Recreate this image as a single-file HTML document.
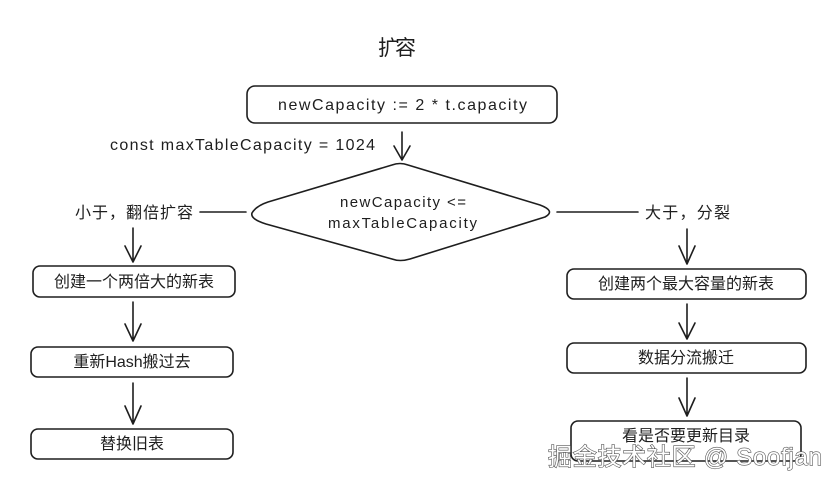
<!DOCTYPE html>
<html><head><meta charset="utf-8"><style>
body{margin:0;background:#fff;width:840px;height:484px;overflow:hidden}
svg{display:block}
text{font-family:"Liberation Sans","Noto Sans CJK SC",sans-serif;fill:#1e1e1e}
</style></head><body>
<svg width="840" height="484" viewBox="0 0 840 484">
<g fill="none" stroke="#1e1e1e" stroke-width="1.6" stroke-linecap="round" stroke-linejoin="round">
<rect x="247" y="86" width="310" height="37" rx="8"/>
<path d="M402 132 L402 160 M394 146 L402 160 L410 146"/>
<path d="M252 213 Q256 206 268 202 L392 165 Q400 162 408 165 L540 205 Q556 211 545 217 L410 259 Q400 262 392 259 L266 224 Q250 219 252 213 Z"/>
<path d="M200 212 L246 212"/>
<path d="M133 228 L133 262 M125 246 L133 262 L141 246"/>
<rect x="33" y="266" width="202" height="31" rx="7"/>
<path d="M133 302 L133 341 M125 324 L133 341 L141 324"/>
<rect x="31" y="347" width="202" height="30" rx="7"/>
<path d="M133 383 L133 424 M125 406 L133 424 L141 406"/>
<rect x="31" y="429" width="202" height="30" rx="7"/>
<path d="M557 212 L638 212"/>
<path d="M687 229 L687 264 M679 246 L687 264 L695 246"/>
<rect x="567" y="269" width="239" height="30" rx="7"/>
<path d="M687 304 L687 339 M679 323 L687 339 L695 323"/>
<rect x="567" y="343" width="239" height="30" rx="7"/>
<path d="M687 378 L687 416 M679 398 L687 416 L695 398"/>
<rect x="571" y="421" width="230" height="40" rx="7"/>
</g>
<text x="378" y="55" font-size="21" textLength="38">扩容</text>
<text x="278" y="110" font-size="16" textLength="249">newCapacity := 2 * t.capacity</text>
<text x="110" y="150" font-size="16" textLength="265">const maxTableCapacity = 1024</text>
<text x="340" y="207" font-size="15" textLength="126">newCapacity &lt;=</text>
<text x="328" y="228" font-size="15" textLength="149">maxTableCapacity</text>
<text x="75" y="218" font-size="16" textLength="118">小于，翻倍扩容</text>
<text x="645" y="218" font-size="16" textLength="85">大于，分裂</text>
<text x="134" y="287" font-size="16" text-anchor="middle">创建一个两倍大的新表</text>
<text x="132" y="367" font-size="16" text-anchor="middle">重新Hash搬过去</text>
<text x="132" y="449" font-size="16" text-anchor="middle">替换旧表</text>
<text x="686" y="289" font-size="16" text-anchor="middle">创建两个最大容量的新表</text>
<text x="686" y="363" font-size="16" text-anchor="middle">数据分流搬迁</text>
<text x="686" y="441" font-size="16" text-anchor="middle">看是否要更新目录</text>
<text x="548" y="465" font-size="24" textLength="274" style="fill:#fff;stroke:#555;stroke-width:1.2;paint-order:stroke">掘金技术社区 @ Soofjan</text>
</svg>
</body></html>
